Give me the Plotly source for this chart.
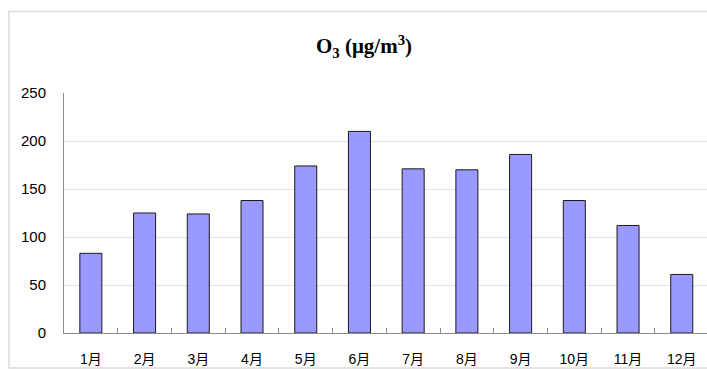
import plotly.graph_objects as go

# Monthly mean ozone concentration
months = ["1月", "2月", "3月", "4月", "5月", "6月",
          "7月", "8月", "9月", "10月", "11月", "12月"]
o3_values = [83, 125, 124, 138, 174, 210, 171, 170, 186, 138, 112, 61]
y_ticks = [0, 50, 100, 150, 200, 250]

W, H = 707, 369
ML, MR, MT, MB = 64, 0, 93, 36
plot_w = W - ML - MR
plot_h = H - MT - MB

fig = go.Figure()
fig.add_trace(go.Bar(
    x=months,
    y=o3_values,
    width=0.41,
    marker=dict(color="#9999FF", line=dict(color="#1a1a1a", width=1)),
))

# light frame around the whole chart area
def px_x(p):
    return (p - ML) / plot_w

def px_y(p):
    return (H - MB - p) / plot_h

fig.add_shape(type="rect", xref="paper", yref="paper",
              x0=px_x(9), x1=px_x(712), y0=px_y(368), y1=px_y(11.5),
              line=dict(color="#dcdcdc", width=1.5), fillcolor="rgba(0,0,0,0)",
              layer="below")

fig.update_layout(
    width=W, height=H,
    margin=dict(l=ML, r=MR, t=MT, b=MB, pad=0),
    paper_bgcolor="white",
    plot_bgcolor="white",
    showlegend=False,
    title=dict(
        text="O<sub>3</sub> (μg/m<sup>3</sup>)",
        x=364 / W, xref="container", xanchor="center",
        y=1 - 46 / H, yref="container", yanchor="middle",
        font=dict(family="Liberation Serif, Times New Roman, serif",
                  size=21, color="black", weight="bold"),
    ),
    xaxis=dict(
        type="category",
        range=[-0.5, 11.47],
        showline=True, linecolor="#8c8c8c", linewidth=1,
        ticks="inside", tickson="boundaries", ticklen=5,
        tickcolor="#8c8c8c", tickwidth=1,
        showgrid=False, zeroline=False,
        ticklabelstandoff=13,
        tickfont=dict(family="Liberation Sans, Noto Sans CJK SC, sans-serif",
                      size=14, color="black"),
    ),
    yaxis=dict(
        range=[0, 250],
        tickvals=y_ticks,
        showline=True, linecolor="#8c8c8c", linewidth=1,
        showgrid=True, gridcolor="#e3e3e3", gridwidth=1,
        zeroline=False,
        ticks="",
        ticklabelstandoff=14,
        tickfont=dict(family="Liberation Sans, Arial, sans-serif",
                      size=15, color="black"),
    ),
)

fig.write_html("out.html")
